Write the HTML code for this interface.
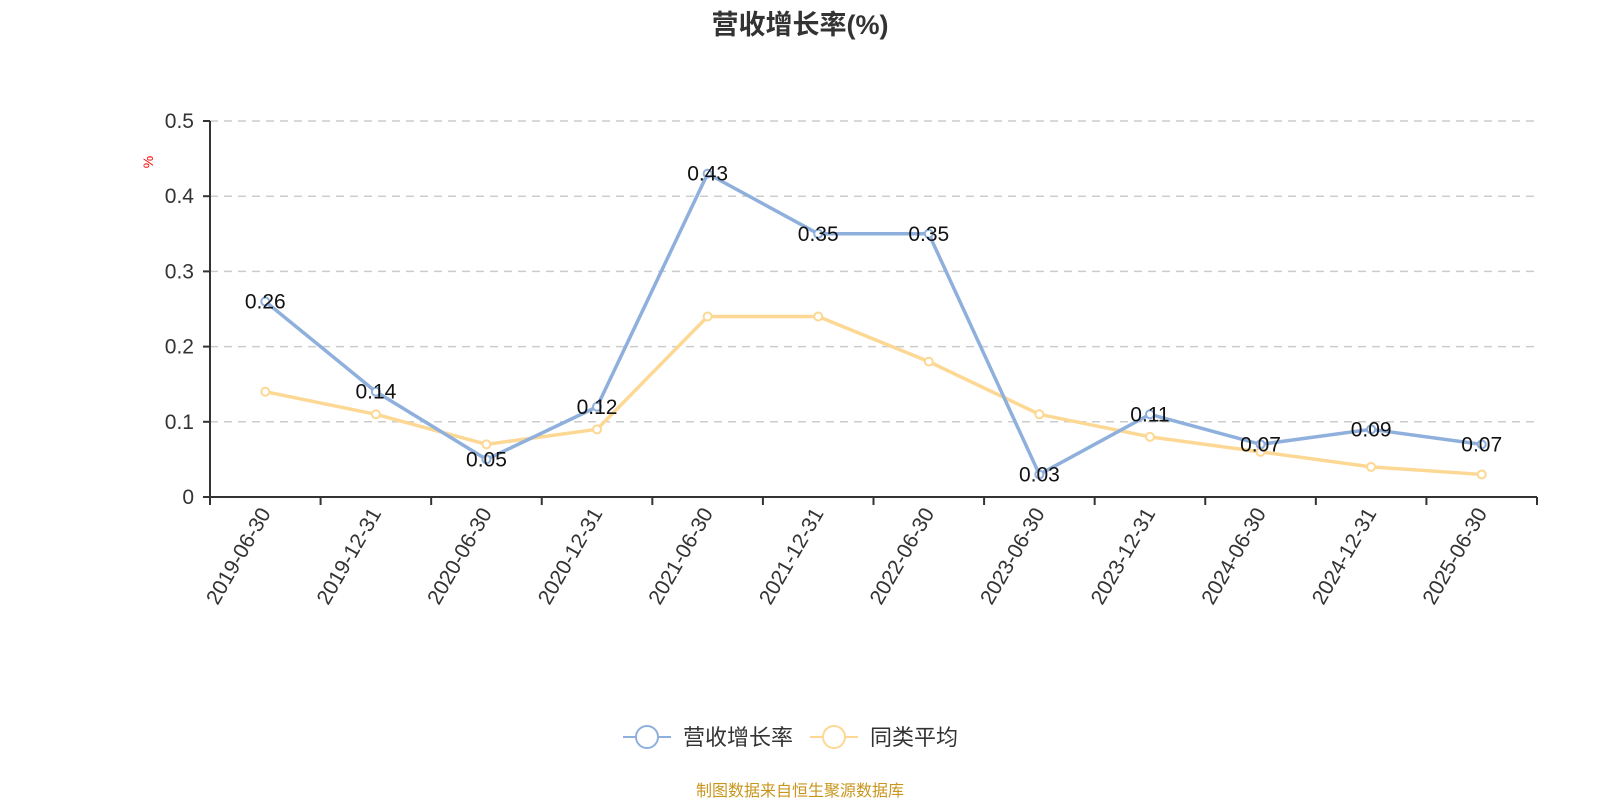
<!DOCTYPE html>
<html><head><meta charset="utf-8"><style>
body{margin:0;background:#fff;width:1600px;height:800px;overflow:hidden}
svg text{font-family:"Liberation Sans","Noto Sans CJK SC",sans-serif}
</style></head><body>
<svg id="c" width="1600" height="800">
<text x="800" y="34" text-anchor="middle" font-size="27" font-weight="bold" fill="#333">营收增长率(%)</text>
<text x="0" y="0" transform="translate(153,162) rotate(-90)" text-anchor="middle" font-size="14" fill="red">%</text>
<g id="grid"></g><g id="axes"></g><g id="series"></g>
<g>
<g>
<line x1="623" y1="737" x2="671" y2="737" stroke="#8fb0dc" stroke-width="2"/>
<circle cx="647" cy="737" r="11" fill="#fff" stroke="#8fb0dc" stroke-width="2"/>
<text x="683" y="745" font-size="22" fill="#333">营收增长率</text></g>
<g>
<line x1="810" y1="737" x2="858" y2="737" stroke="#fdd894" stroke-width="2"/>
<circle cx="834" cy="737" r="11" fill="#fff" stroke="#fdd894" stroke-width="2"/>
<text x="870" y="745" font-size="22" fill="#333">同类平均</text></g>
</g>
<text x="800" y="796" text-anchor="middle" font-size="16" fill="#c8961e">制图数据来自恒生聚源数据库</text>
</svg>
<script>
const categories=["2019-06-30","2019-12-31","2020-06-30","2020-12-31","2021-06-30","2021-12-31","2022-06-30","2023-06-30","2023-12-31","2024-06-30","2024-12-31","2025-06-30"];
const revenueGrowth=[0.26,0.14,0.05,0.12,0.43,0.35,0.35,0.03,0.11,0.07,0.09,0.07];
const peerAverage=[0.14,0.11,0.07,0.09,0.24,0.24,0.18,0.11,0.08,0.06,0.04,0.03];
const yTicks=[0,0.1,0.2,0.3,0.4,0.5];
const NS="http://www.w3.org/2000/svg";
const X0=210,X1=1537,Y0=497,Y1=121,YMAX=0.5;
const band=(X1-X0)/categories.length;
const xs=i=>X0+band*(i+0.5);
const ys=v=>Y0-(v/YMAX)*(Y0-Y1);
function mk(t,a,p){const e=document.createElementNS(NS,t);for(const k in a)e.setAttribute(k,a[k]);p.appendChild(e);return e;}
const grid=document.getElementById('grid'),axes=document.getElementById('axes'),ser=document.getElementById('series');
yTicks.forEach(v=>{
 if(v>0){const g=mk('line',{x1:X0,x2:X1,y1:ys(v),y2:ys(v),stroke:'#ccc','stroke-dasharray':'8,6','stroke-width':1.5},grid);
 
 }
 const t=mk('line',{x1:X0-7,x2:X0,y1:ys(v),y2:ys(v),stroke:'#333','stroke-width':2},axes);
 const l=mk('text',{x:X0-16,y:ys(v)+7,'text-anchor':'end','font-size':21,fill:'#333'},axes);
 l.textContent=v===0?'0':String(v);
 
 
});
const ya=mk('line',{x1:X0,x2:X0,y1:Y1,y2:Y0,stroke:'#333','stroke-width':2},axes);


const xa=mk('line',{x1:X0,x2:X1,y1:Y0,y2:Y0,stroke:'#333','stroke-width':2},axes);


for(let i=0;i<=categories.length;i++){mk('line',{x1:X0+band*i,x2:X0+band*i,y1:Y0,y2:Y0+8,stroke:'#333','stroke-width':2},axes);}
categories.forEach((c,i)=>{
 const t=mk('text',{transform:`translate(${xs(i)+6},${Y0+16}) rotate(-60)`,'text-anchor':'end','font-size':21,fill:'#333'},axes);
 t.textContent=c;
 
 
});
function series(data,color,name,labels){
 const p=mk('polyline',{points:data.map((v,i)=>xs(i)+','+ys(v)).join(' '),fill:'none',stroke:color,'stroke-width':3.5,'stroke-linejoin':'round'},ser);
 
 
 data.forEach((v,i)=>{
  const c=mk('circle',{cx:xs(i),cy:ys(v),r:4,fill:'#fff',stroke:color,'stroke-width':2},ser);
  
  
 });
}
series(peerAverage,'#fdd894','peer-average',false);
series(revenueGrowth,'#8fb0dc','revenue-growth',true);
revenueGrowth.forEach((v,i)=>{
 const t=mk('text',{x:xs(i),y:ys(v)+7,'text-anchor':'middle','font-size':21,fill:'#111'},ser);
 t.textContent=v.toFixed(2);
 
 
});
</script>
</body></html>
